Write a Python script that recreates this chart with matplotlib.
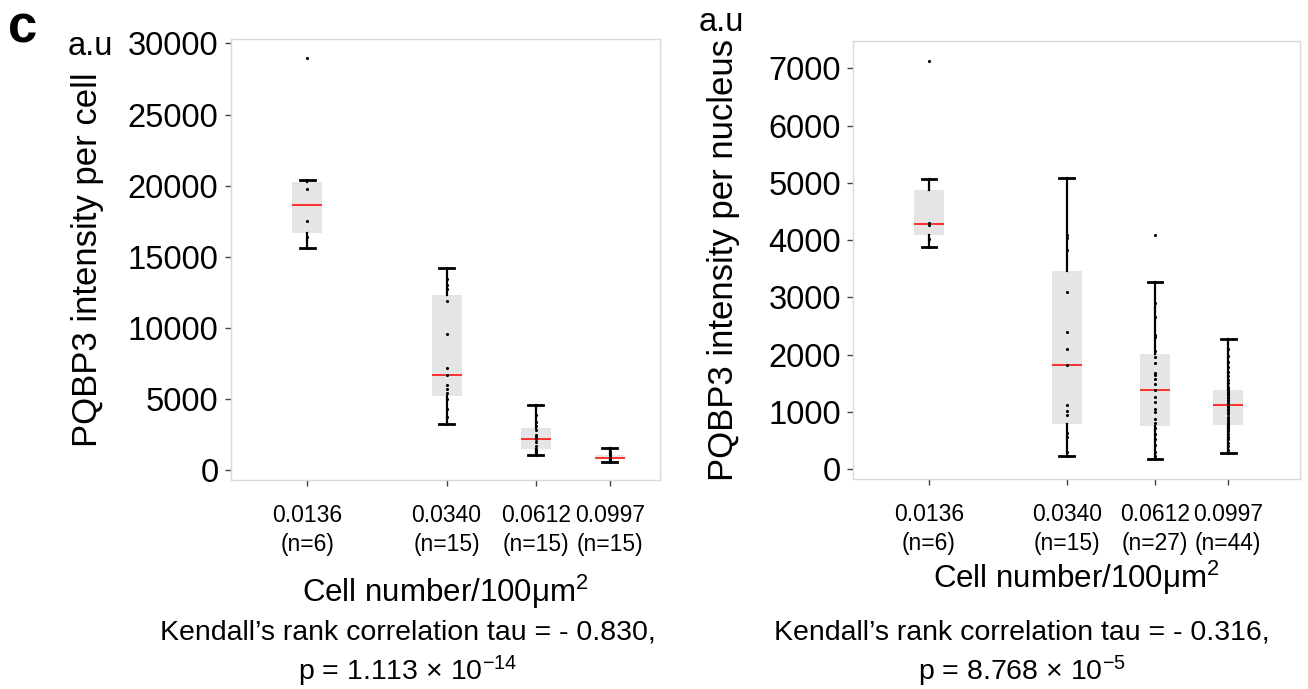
import numpy as np
import matplotlib
matplotlib.use("Agg")
import matplotlib.pyplot as plt

plt.rcParams["font.family"] = ["Liberation Sans", "DejaVu Sans"]
plt.rcParams["mathtext.fontset"] = "custom"
plt.rcParams["mathtext.rm"] = "Liberation Sans"
plt.rcParams["mathtext.it"] = "Liberation Sans:italic"

# Cell density groups (cells / 100 um^2)
density = [0.0136, 0.0340, 0.0612, 0.0997]

# PQBP3 intensity per cell (left panel)
cell_n = [6, 15, 15, 15]
cell_vals = [
    [15640, 16400, 17510, 19790, 20370, 29000],
    [3260, 3700, 4300, 5000, 5400, 5680, 5950, 6700, 7200, 9540,
     11860, 12760, 13000, 13460, 14205],
    [1055, 1150, 1300, 1400, 1510, 1700, 1950, 2160, 2300, 2500,
     2800, 3070, 3400, 3900, 4550],
    [584, 640, 700, 740, 780, 800, 840, 866, 900, 950,
     1040, 1120, 1200, 1350, 1526],
]

# PQBP3 intensity per nucleus (right panel)
nuc_n = [6, 15, 27, 44]
nuc_vals = [
    [3880, 4020, 4270, 4300, 5072, 7125],
    [237, 300, 569, 628, 948, 1017, 1122, 1820, 2099, 2402,
     3094, 3827, 4031, 4089, 5090],
    [175, 230, 300, 420, 520, 610, 720, 800, 880, 1005,
     1052, 1180, 1267, 1384, 1480, 1576, 1646, 1686, 1860, 1965,
     2060, 2314, 2344, 2653, 2900, 3269, 4089],
    [279, 330, 400, 450, 520, 570, 620, 660, 700, 730,
     745, 770, 800, 840, 880, 920, 960, 1000, 1030, 1060,
     1090, 1110, 1134, 1160, 1190, 1210, 1240, 1260, 1290, 1310,
     1330, 1350, 1370, 1400, 1440, 1500, 1560, 1620, 1700, 1780,
     1870, 1980, 2100, 2269],
]

cell_ticks = [0, 5000, 10000, 15000, 20000, 25000, 30000]
nuc_ticks = [0, 1000, 2000, 3000, 4000, 5000, 6000, 7000]


def draw_panel(ax, vals, ns, yticks, ylim, xlim):
    pos = np.log10(density)
    ax.boxplot(vals, positions=pos, widths=0.086, patch_artist=True,
               showfliers=False, manage_ticks=False,
               boxprops=dict(facecolor="#e5e5e5", edgecolor="none"),
               whiskerprops=dict(color="black", linewidth=1.6),
               capprops=dict(color="black", linewidth=2.0),
               medianprops=dict(color="#ff2020", linewidth=1.3))
    for x, v in zip(pos, vals):
        ax.scatter(np.full(len(v), x), v, s=5, color="black",
                   linewidths=0, zorder=4)

    ax.set_xticks(pos)
    ax.set_xticklabels([f"{d:.4f}\n(n={n})" for d, n in zip(density, ns)],
                       fontsize=16.5, linespacing=1.35)
    ax.set_yticks(yticks)
    ax.set_yticklabels([str(t) for t in yticks], fontsize=23.5)
    ax.set_xlim(*xlim)
    ax.set_ylim(*ylim)
    ax.tick_params(axis="both", direction="out", length=4, width=1,
                   color="#444444")
    ax.tick_params(axis="x", pad=13)
    ax.tick_params(axis="y", pad=5)
    for s in ax.spines.values():
        s.set_color("#d9d9d9")
        s.set_linewidth(1)


fig = plt.figure(figsize=(13.08, 6.89), dpi=100)

ax1 = fig.add_axes([0.1766, 0.3033, 0.328, 0.6408])
draw_panel(ax1, cell_vals, cell_n, cell_ticks, (-700, 30350), (-2.085, -0.858))
ax1.set_ylabel("PQBP3 intensity per cell", fontsize=25, labelpad=17)
ax1.set_xlabel("Cell number/100μm$^{2}$", fontsize=22.5, labelpad=12)

ax2 = fig.add_axes([0.6524, 0.3048, 0.3415, 0.6361])
draw_panel(ax2, nuc_vals, nuc_n, nuc_ticks, (-170, 7480), (-2.085, -0.794))
ax2.set_ylabel("PQBP3 intensity per nucleus", fontsize=25, labelpad=20)
ax2.set_xlabel("Cell number/100μm$^{2}$", fontsize=22.5, labelpad=3)

fig.text(0.006, 0.958, "c", fontsize=38, fontweight="bold", va="center")
fig.text(0.052, 0.933, "a.u", fontsize=23.5, va="center")
fig.text(0.534, 0.968, "a.u", fontsize=23.5, va="center")

fig.text(0.312, 0.05,
         "Kendall’s rank correlation tau = - 0.830,\np = 1.113 × 10$^{-14}$",
         fontsize=20.5, ha="center", va="center", multialignment="center",
         linespacing=1.3)
fig.text(0.781, 0.05,
         "Kendall’s rank correlation tau = - 0.316,\np = 8.768 × 10$^{-5}$",
         fontsize=20.5, ha="center", va="center", multialignment="center",
         linespacing=1.3)

fig.savefig("out.png", dpi=100)
